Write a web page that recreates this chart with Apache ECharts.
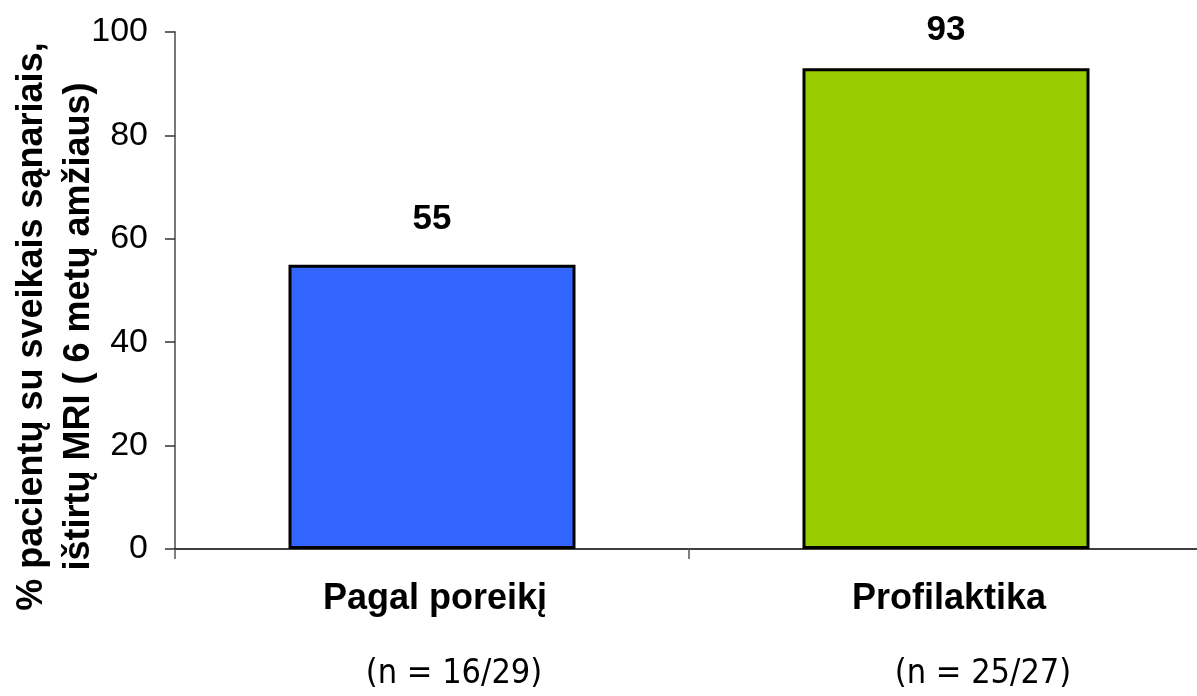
<!DOCTYPE html>
<html>
<head>
<meta charset="utf-8">
<script src="https://cdn.jsdelivr.net/npm/echarts@6/dist/echarts.min.js"></script>
<style>
  html, body { margin: 0; padding: 0; background: #ffffff; }
  #chart { width: 1197px; height: 696px; }
</style>
</head>
<body>
<div id="chart"></div>
<script>
// Share of patients with healthy joints on MRI at age 6, by treatment regimen
const categories = ['Pagal poreikį', 'Profilaktika'];
const sampleSizes = ['(n = 16/29)', '(n = 25/27)'];
const percentages = [55, 93];
const barColors = ['#3366FF', '#99CC00'];
const yTicks = [0, 20, 40, 60, 80, 100];

const chart = echarts.init(document.getElementById('chart'));

const narrowFont = '"Liberation Sans Narrow", "Arial Narrow", "DejaVu Sans Condensed", sans-serif';
const mainFont = '"Liberation Sans", Arial, sans-serif';

const option = {
  backgroundColor: '#ffffff',
  animation: false,
  grid: { left: 175, right: -6, top: 32, bottom: 147, containLabel: false, outerBoundsMode: 'none' },
  xAxis: {
    type: 'category',
    data: categories,
    boundaryGap: true,
    axisLine: { show: true, lineStyle: { color: '#000', width: 1.5 } },
    axisTick: { show: true, length: 10, lineStyle: { color: '#555', width: 1.5 } },
    axisLabel: {
      margin: 13,
      interval: 0,
      formatter: function (value, index) {
        return '{a|' + value + '}\n{n' + index + '|' + sampleSizes[index] + '}';
      },
      rich: {
        a: { fontFamily: mainFont, fontWeight: 'bold', fontSize: 36, color: '#000', lineHeight: 75, padding: [0, 0, 0, 6] },
        n0: { fontFamily: narrowFont, fontSize: 34, color: '#000', lineHeight: 75, padding: [0, 0, 0, 44] },
        n1: { fontFamily: narrowFont, fontSize: 34, color: '#000', lineHeight: 75, padding: [0, 0, 0, 74] }
      }
    },
    splitLine: { show: false }
  },
  yAxis: {
    type: 'value',
    min: yTicks[0],
    max: yTicks[yTicks.length - 1],
    interval: yTicks[1] - yTicks[0],
    name: '% pacientų su sveikais sąnariais,\ništirtų MRI ( 6 metų amžiaus)',
    nameLocation: 'middle',
    nameRotate: 90,
    nameGap: 72,
    nameMoveOverlap: false,
    nameTextStyle: {
      fontFamily: mainFont,
      fontWeight: 'bold',
      fontSize: 36,
      color: '#000',
      lineHeight: 47,
      padding: [0, 72, 0, 0]
    },
    axisLine: { show: true, lineStyle: { color: '#777', width: 2 } },
    axisTick: { show: true, length: 10, lineStyle: { color: '#333', width: 1.5 } },
    axisLabel: {
      margin: 27,
      fontFamily: mainFont,
      fontSize: 34,
      color: '#000'
    },
    splitLine: { show: false }
  },
  series: [{
    type: 'bar',
    barWidth: 287,
    data: percentages.map(function (v, i) {
      return {
        value: v,
        itemStyle: { color: barColors[i] },
        label: { distance: i === 0 ? 28 : 20 }
      };
    }),
    itemStyle: { borderColor: '#000', borderWidth: 3 },
    label: {
      show: true,
      position: 'top',
      fontFamily: mainFont,
      fontWeight: 'bold',
      fontSize: 35,
      color: '#000'
    }
  }]
};

chart.setOption(option);
</script>
</body>
</html>
